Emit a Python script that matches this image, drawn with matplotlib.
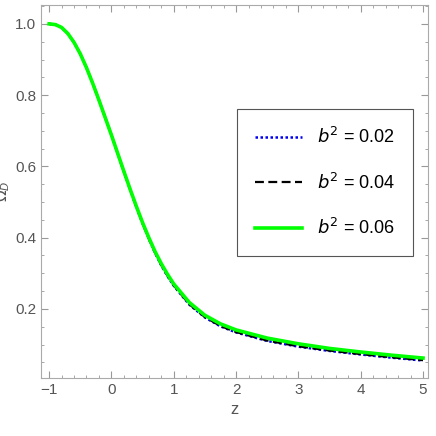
import matplotlib
matplotlib.use('Agg')
import matplotlib.pyplot as plt
from matplotlib.ticker import MultipleLocator

plt.rcParams['font.family'] = ['Liberation Sans Narrow', 'Liberation Sans', 'DejaVu Sans']

z = [-1, -0.9, -0.8, -0.7, -0.6, -0.5, -0.4, -0.3, -0.2, -0.1, 0, 0.1, 0.2, 0.3, 0.4, 0.5, 0.6, 0.7, 0.8, 0.9,
     1, 1.25, 1.5, 1.75, 2, 2.5, 3, 3.5, 4, 4.5, 5]
om_002 = [1.0, 0.998, 0.99, 0.973, 0.948, 0.916, 0.877, 0.833, 0.786, 0.737, 0.688, 0.636, 0.585, 0.535, 0.486,
          0.44, 0.397, 0.357, 0.322, 0.292, 0.265, 0.212, 0.176, 0.151, 0.134, 0.11, 0.094, 0.082, 0.072, 0.063, 0.055]
om_004 = [1.0, 0.998, 0.99, 0.973, 0.948, 0.916, 0.877, 0.833, 0.786, 0.737, 0.688, 0.636, 0.585, 0.535, 0.486,
          0.44, 0.397, 0.358, 0.323, 0.293, 0.266, 0.213, 0.177, 0.152, 0.135, 0.111, 0.095, 0.083, 0.073, 0.064, 0.056]
om_006 = [1.0, 0.998, 0.99, 0.973, 0.948, 0.916, 0.877, 0.833, 0.786, 0.737, 0.688, 0.637, 0.586, 0.536, 0.488,
          0.442, 0.4, 0.361, 0.327, 0.297, 0.27, 0.218, 0.182, 0.158, 0.141, 0.118, 0.102, 0.089, 0.079, 0.07, 0.062]

fig = plt.figure(figsize=(4.36, 4.36), dpi=100)
ax = fig.add_axes([41/436, 1 - 378/436, 387/436, 373/436])

ax.plot(z, om_002, color='#0000ee', lw=1.8, ls=(0, (1, 1)), label='$b^2$ = 0.02', zorder=1)
ax.plot(z, om_004, color='black', lw=1.6, ls=(0, (4, 2)), label='$b^2$ = 0.04', zorder=2)
ax.plot(z, om_006, color='#00ff00', lw=2.6, label='$b^2$ = 0.06', zorder=3)

ax.set_xlim(-1.13, 5.08)
ax.set_ylim(0.006, 1.053)
ax.xaxis.set_major_locator(MultipleLocator(1))
ax.xaxis.set_minor_locator(MultipleLocator(0.2))
ax.set_yticks([0.2, 0.4, 0.6, 0.8, 1.0])
ax.yaxis.set_minor_locator(MultipleLocator(0.05))
ax.tick_params(which='both', direction='in', top=True, right=True, colors='#999999', labelcolor='#555555', labelsize=11)
ax.tick_params(which='major', length=5)
ax.tick_params(which='minor', length=2.5)
ax.tick_params(labeltop=False, labelright=False)
for s in ax.spines.values():
    s.set_color('#aaaaaa')

ax.set_xlabel('z', color='#555555', fontsize=12)
ax.set_ylabel(r'$\Omega_D$', color='#555555', fontsize=11)
ax.yaxis.set_label_coords(-0.075, 0.5)

leg = ax.legend(loc='upper right', bbox_to_anchor=(0.985, 0.745), fontsize=13,
                fancybox=False, edgecolor='#555555', framealpha=1, handlelength=2.6,
                labelspacing=1.4, borderpad=1.0, handletextpad=0.8)
leg.get_frame().set_linewidth(0.8)

fig.savefig('out.png', dpi=100)
